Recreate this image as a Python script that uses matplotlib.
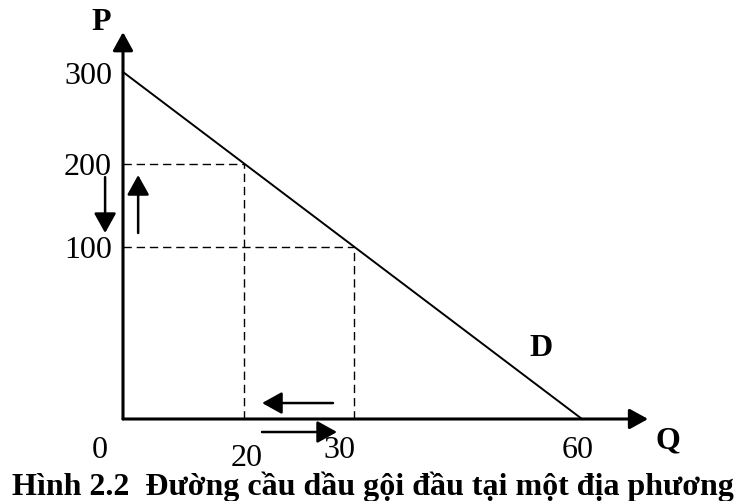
# Đường cầu dầu gội đầu (Hình 2.2) - vẽ lại bằng matplotlib
import numpy as np
import matplotlib.pyplot as plt

plt.rcParams['font.family'] = ['Liberation Serif', 'DejaVu Serif']

# Dữ liệu
q_cau = [0, 20, 30, 60]          # lượng cầu Q
p_cau = [300, 200, 100, 0]       # giá P
q_ticks = [0, 20, 30, 60]
p_ticks = [100, 200, 300]
q_diem = [20, 30]                # các điểm có đường gióng
p_diem = [200, 100]
nhan_q = ['0', '20', '30', '60']
nhan_p = ['100', '200', '300']
chu_thich = 'Hình 2.2  Đường cầu dầu gội đầu tại một địa phương'

# Trục trong hình gốc không theo tỉ lệ -> thang đo từng đoạn
q_moc, q_vt = [0, 20, 30, 60], [0, 0.264, 0.503, 1.0]
p_moc, p_vt = [0, 100, 200, 300], [0, 0.497, 0.736, 1.0]


def thang(moc, vt):
    def fwd(x):
        return np.interp(x, moc, vt)

    def inv(y):
        return np.interp(y, vt, moc)
    return fwd, inv


W, H = 734, 501
fig = plt.figure(figsize=(W / 100, H / 100), dpi=100)
ax = fig.add_axes([123 / W, (H - 419) / H, (582 - 123) / W, (419 - 72) / H])
ax.set_xscale('function', functions=thang(q_moc, q_vt))
ax.set_yscale('function', functions=thang(p_moc, p_vt))
ax.set_xlim(0, 60)
ax.set_ylim(0, 300)
ax.axis('off')

# Đường cầu D
ax.plot(q_cau, p_cau, color='black', lw=1.4, clip_on=False)

# Đường gióng nét đứt
for q, p in zip(q_diem, p_diem):
    ax.plot([0, q], [p, p], color='black', lw=1.0, dashes=(6, 3.5))
    ax.plot([q, q], [0, p], color='black', lw=1.0, dashes=(6, 3.5))

# Trục có mũi tên
truc = dict(arrowstyle='-|>,head_length=0.4,head_width=0.22', lw=2.2,
            color='black', mutation_scale=28, shrinkA=0, shrinkB=0)
ax.annotate('', xy=(1.144, 0), xytext=(0, 0), xycoords='axes fraction',
            arrowprops=truc, annotation_clip=False)
ax.annotate('', xy=(0, 1.115), xytext=(0, 0), xycoords='axes fraction',
            arrowprops=truc, annotation_clip=False)

# Mũi tên chỉ sự thay đổi
mt = dict(arrowstyle='-|>,head_length=0.45,head_width=0.25', lw=1.8,
          color='black', mutation_scale=27, shrinkA=0, shrinkB=0)
for dau, cuoi in [((-0.039, 0.697), (-0.039, 0.536)),
                  ((0.033, 0.536), (0.033, 0.703)),
                  ((0.4575, 0.046), (0.303, 0.046)),
                  ((0.3028, -0.0375), (0.4662, -0.0375))]:
    ax.annotate('', xy=cuoi, xytext=dau, xycoords='axes fraction',
                arrowprops=mt, annotation_clip=False)

# Nhãn trục hoành
lech_q = [(-23, -31), (2, -39), (-14, -32), (-4, -31)]
for q, nhan, d in zip(q_ticks, nhan_q, lech_q):
    ax.annotate(nhan, xy=(q, 0), xytext=d, textcoords='offset pixels',
                ha='center', va='center', fontsize=23, annotation_clip=False)

# Nhãn trục tung
for p, nhan in zip(p_ticks, nhan_p):
    ax.annotate(nhan, xy=(0, p), xytext=(-11, -4), textcoords='offset pixels',
                ha='right', va='center', fontsize=23, annotation_clip=False)

fig.text(101 / W, 1 - 23 / H, 'P', fontsize=23, fontweight='bold', ha='center', va='center')
fig.text(668 / W, 1 - 441 / H, 'Q', fontsize=23, fontweight='bold', ha='center', va='center')
fig.text(541 / W, 1 - 349 / H, 'D', fontsize=23, fontweight='bold', ha='center', va='center')
fig.text(12 / W, 1 - 495 / H, chu_thich, fontsize=23, fontweight='bold',
         ha='left', va='baseline')

fig.savefig('out.png', dpi=100)
